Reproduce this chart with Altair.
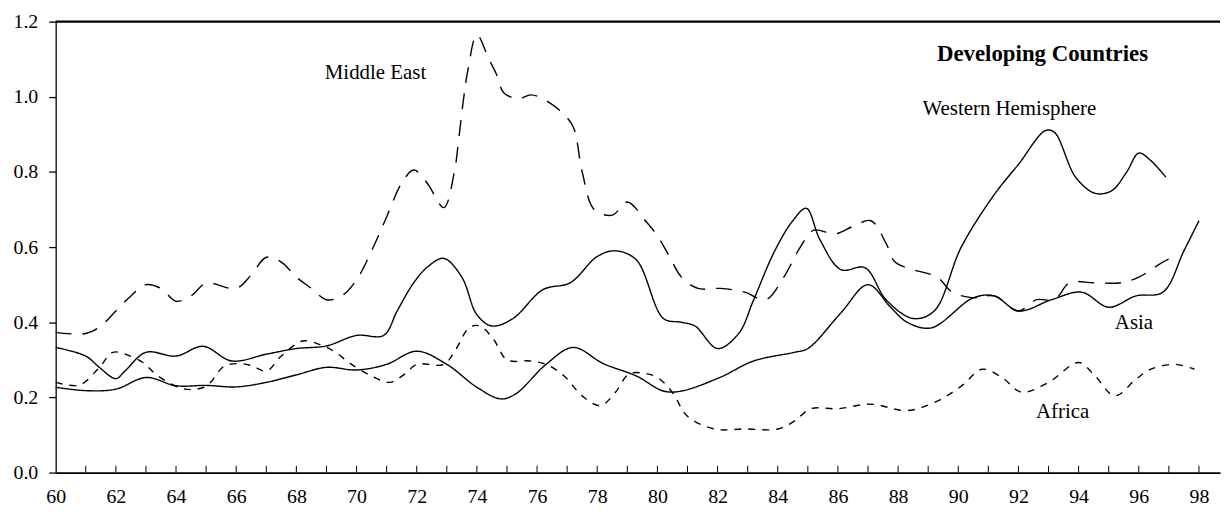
import altair as alt
import pandas as pd

FONT = "Liberation Serif"

# ---- data ----
me_years = [60, 61, 61.5, 62, 62.5, 63, 63.5, 64, 64.5, 65, 66, 66.5, 67, 67.5, 68, 68.5, 69, 69.5,
            70, 70.5, 71, 71.5, 71.9, 72.35, 72.9, 73.25, 73.4, 73.55, 73.7, 74, 74.4, 74.65, 74.9,
            75.4, 75.8, 76.3, 76.8, 77.2, 77.5, 77.9, 78.5, 79, 79.6, 80, 80.4, 80.8, 81.35, 82.1,
            82.9, 83.6, 84.2, 84.75, 85.2, 85.9, 86.5, 87.1, 87.6, 87.9, 88.5, 89.3, 89.8, 90.5, 91.2,
            92, 92.6, 93.2, 93.7, 94.5, 95.4, 96, 96.8, 97.3]
me_vals = [0.373, 0.37, 0.39, 0.43, 0.47, 0.50, 0.49, 0.456, 0.47, 0.504, 0.49, 0.526, 0.573, 0.56, 0.52,
           0.49, 0.46, 0.47, 0.513, 0.59, 0.68, 0.77, 0.805, 0.77, 0.705, 0.80, 0.89, 0.99, 1.07, 1.165,
           1.10, 1.06, 1.01, 0.995, 1.005, 0.99, 0.96, 0.92, 0.80, 0.70, 0.685, 0.72, 0.67, 0.63, 0.575,
           0.52, 0.49, 0.49, 0.48, 0.46, 0.52, 0.60, 0.645, 0.635, 0.655, 0.67, 0.61, 0.56, 0.54, 0.52,
           0.48, 0.465, 0.47, 0.43, 0.46, 0.46, 0.505, 0.505, 0.505, 0.52, 0.56, 0.58]

wh_years = [60, 61, 61.45, 62, 62.3, 63, 64, 64.9, 65.85, 67, 68, 69, 70, 70.9, 71.35, 71.9, 72.4, 72.9,
            73.5, 74, 74.5, 75.2, 76.2, 77.1, 78, 78.6, 79.3, 80.2, 80.8, 81.25, 82, 82.7, 83.2, 83.9,
            84.5, 84.95, 85.4, 86.1, 86.9, 87.6, 88.5, 89.2, 90.1, 91.2, 92, 92.9, 93.2, 93.9, 94.55,
            95.1, 95.6, 96, 96.4, 96.9]
wh_vals = [0.333, 0.31, 0.28, 0.25, 0.27, 0.32, 0.31, 0.336, 0.297, 0.315, 0.33, 0.337, 0.365, 0.365,
           0.43, 0.505, 0.55, 0.57, 0.52, 0.42, 0.39, 0.41, 0.487, 0.505, 0.575, 0.59, 0.566, 0.41, 0.40,
           0.39, 0.33, 0.37, 0.46, 0.59, 0.67, 0.703, 0.62, 0.54, 0.545, 0.46, 0.41, 0.43, 0.60, 0.74,
           0.82, 0.91, 0.905, 0.786, 0.743, 0.75, 0.80, 0.85, 0.83, 0.786]

asia_years = [60, 61, 62, 63, 64, 65, 66, 67, 68, 69, 70, 71, 72, 73, 74, 74.8, 75.3, 76.3, 77.2, 78.2,
              79.3, 80.2, 80.8, 82.1, 83.2, 84.55, 85, 86.1, 87, 87.75, 88.3, 89.1, 90.5, 91.2, 92,
              93.1, 94.1, 95, 95.9, 96.8, 97.5, 98]
asia_vals = [0.227, 0.218, 0.222, 0.253, 0.231, 0.232, 0.228, 0.24, 0.26, 0.28, 0.273, 0.288, 0.323,
             0.288, 0.227, 0.196, 0.21, 0.288, 0.333, 0.29, 0.257, 0.217, 0.217, 0.254, 0.297, 0.32,
             0.33, 0.425, 0.50, 0.44, 0.40, 0.385, 0.465, 0.47, 0.43, 0.46, 0.48, 0.44, 0.47, 0.48,
             0.59, 0.67]

africa_years = [60, 60.8, 61.45, 61.9, 62.3, 62.9, 63.4, 64.3, 65, 65.6, 66.1, 66.5, 67, 67.5, 68.2,
                68.8, 69.3, 69.8, 70.5, 71.1, 71.6, 72, 72.9, 73.3, 73.75, 74.1, 74.55, 75, 75.75,
                76.3, 76.9, 77.5, 78.1, 78.6, 79.05, 79.5, 80, 80.5, 81, 81.9, 82.9, 84, 84.55, 85.1,
                86, 87.1, 88.3, 89.3, 90.1, 90.8, 91.5, 92.1, 93, 94, 94.55, 95.2, 95.9, 96.4, 97.2,
                97.85]
africa_vals = [0.24, 0.233, 0.28, 0.32, 0.315, 0.293, 0.257, 0.222, 0.23, 0.283, 0.29, 0.285, 0.27,
               0.31, 0.35, 0.34, 0.32, 0.29, 0.257, 0.24, 0.262, 0.288, 0.288, 0.328, 0.386, 0.39,
               0.355, 0.30, 0.297, 0.288, 0.257, 0.204, 0.178, 0.213, 0.262, 0.265, 0.253, 0.213,
               0.15, 0.116, 0.116, 0.116, 0.137, 0.17, 0.17, 0.182, 0.165, 0.19, 0.23, 0.275, 0.25,
               0.214, 0.24, 0.293, 0.257, 0.204, 0.248, 0.275, 0.288, 0.275]

label_text = ["Middle East", "Western Hemisphere", "Asia", "Africa"]
label_x = [70.63, 91.7, 95.84, 93.47]
label_y = [1.063, 0.968, 0.397, 0.161]

title_text = ["Developing Countries"]
title_x = [92.8]
title_y = [1.114]

x_tick_labels = list(range(60, 99, 2))
x_minor = list(range(61, 99))
y_ticks = [0.0, 0.2, 0.4, 0.6, 0.8, 1.0, 1.2]
x_domain = [60, 98.7]
y_domain = [0, 1.2]


def frame(years, vals):
    return pd.DataFrame({"year": years, "value": vals})


xs = alt.Scale(domain=x_domain, nice=False, zero=False)
ys = alt.Scale(domain=y_domain, nice=False)

x_axis = alt.Axis(values=x_tick_labels, format="d", tickSize=0, labelPadding=30,
                  labelBaseline="alphabetic",
                  labelFont=FONT, labelFontSize=20, labelColor="black", domainColor="black",
                  domainWidth=1.6, grid=False, title=None, labelFlush=False)
y_axis = alt.Axis(values=y_ticks, format=".1f", tickSize=7, labelPadding=11, tickColor="black",
                  tickWidth=1.3, labelFont=FONT, labelFontSize=20, labelColor="black",
                  domainColor="black", domainWidth=1.3, grid=False, title=None)


def X(field):
    return alt.X(field, scale=xs, axis=x_axis)


def Y(field):
    return alt.Y(field, scale=ys, axis=y_axis)


def line(years, vals, dash):
    return alt.Chart(frame(years, vals)).mark_line(
        color="black", strokeWidth=1.4, interpolate="catmull-rom", strokeDash=dash
    ).encode(x=X("year:Q"), y=Y("value:Q"))


wh = line(wh_years, wh_vals, [1, 0])
asia = line(asia_years, asia_vals, [1, 0])
me = line(me_years, me_vals, [16, 11])
africa = line(africa_years, africa_vals, [7, 7])

minor = alt.Chart(pd.DataFrame({"year": x_minor})).transform_calculate(
    y0="0", y1="0.018"
).mark_rule(color="black", strokeWidth=1).encode(
    x=X("year:Q"), y=Y("y0:Q"), y2="y1:Q",
)

top = alt.Chart(pd.DataFrame({"a": [x_domain[0]], "b": [x_domain[1]], "y": [y_domain[1]]})).mark_rule(
    color="black", strokeWidth=2.2
).encode(x=X("a:Q"), x2="b:Q", y=Y("y:Q"))

labels = alt.Chart(pd.DataFrame({"t": label_text, "x": label_x, "y": label_y})).mark_text(
    font=FONT, fontSize=21, color="black", align="center", baseline="middle"
).encode(x=X("x:Q"), y=Y("y:Q"), text="t:N")

title = alt.Chart(pd.DataFrame({"t": title_text, "x": title_x, "y": title_y})).mark_text(
    font=FONT, fontSize=23, fontWeight="bold", color="black", align="center", baseline="middle"
).encode(x=X("x:Q"), y=Y("y:Q"), text="t:N")

chart = alt.layer(wh, asia, me, africa, minor, top, labels, title).properties(
    width=1172, height=454,
    autosize=alt.AutoSizeParams(type="none"),
    padding={"left": 48, "top": 12, "right": 2, "bottom": 36},
    background="white",
).configure_view(stroke=None)

chart.save("out.html", embed_options={"renderer": "svg", "actions": False})
